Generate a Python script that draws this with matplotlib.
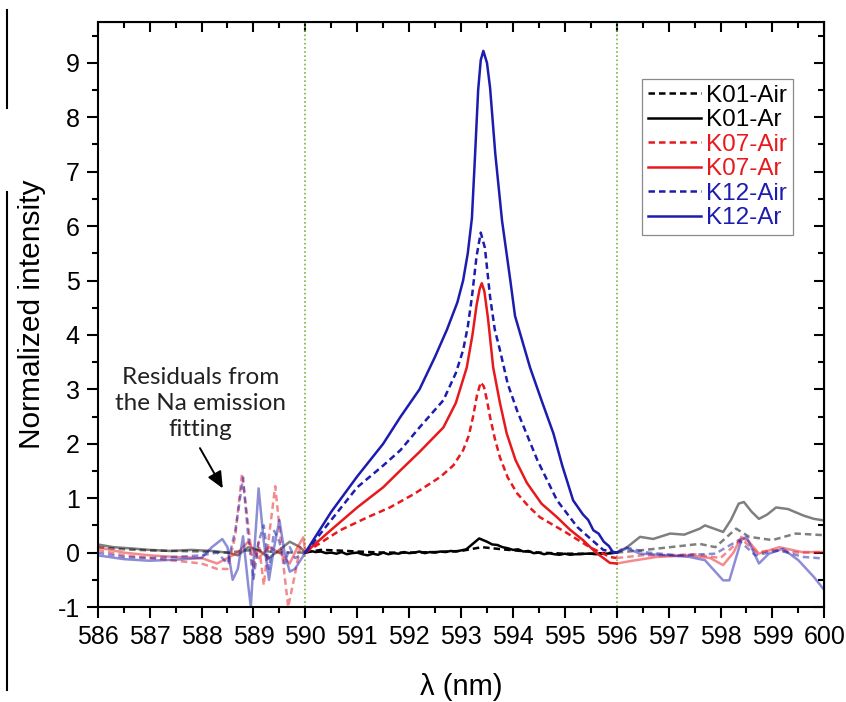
import numpy as np
import matplotlib
matplotlib.use('Agg')
import matplotlib.pyplot as plt
from matplotlib.lines import Line2D

plt.rcParams['font.family'] = ['Liberation Sans', 'DejaVu Sans']
plt.rcParams['axes.unicode_minus'] = False

# --- data (wavelength in nm, normalized intensity) ---
series_labels = ['K01-Air', 'K01-Ar', 'K07-Air', 'K07-Ar', 'K12-Air', 'K12-Ar']
series_colors = ['#000000', '#000000', '#e8191c', '#e8191c', '#1c1cae', '#1c1cae']
series_dashed = [True, False, True, False, True, False]

k01_air_x = [586, 586.5, 587, 587.5, 588, 588.5, 589, 589.5, 590,
             590.3, 590.6, 591, 591.5, 592, 592.5, 593, 593.4, 593.8, 594.5, 595, 595.5, 596,
             596.45, 597.03, 597.6, 597.9, 598.3, 598.55, 599.0, 599.45, 600]
k01_air_y = [0.1, 0.06, 0.04, 0.03, 0.02, 0.0, 0.05, 0.0, 0.0,
             0.05, 0.04, 0.02, 0.0, 0.0, 0.01, 0.03, 0.1, 0.06, 0.0, -0.02, -0.02, 0.0,
             0.04, 0.1, 0.16, 0.1, 0.44, 0.29, 0.23, 0.35, 0.32]

k01_ar_x = [586, 586.3, 586.6, 587, 587.4, 587.8, 588.2, 588.5, 588.7, 588.9, 589.1, 589.3, 589.5,
            589.7, 589.9,
            590.0, 590.1, 590.2, 590.3, 590.4, 590.5, 590.6, 590.7, 590.8, 590.9,
            591.0, 591.1, 591.2, 591.3, 591.4, 591.5, 591.6, 591.7, 591.8, 591.9,
            592.0, 592.1, 592.2, 592.3, 592.4, 592.5, 592.6, 592.7, 592.8, 592.9,
            593.0, 593.1, 593.2, 593.3, 593.35, 593.4, 593.5, 593.6, 593.7, 593.8, 593.9,
            594.0, 594.1, 594.2, 594.3, 594.4, 594.5, 594.6, 594.7, 594.8, 594.9,
            595.0, 595.1, 595.2, 595.3, 595.4, 595.5, 595.6, 595.7, 595.8, 595.9, 596.0,
            596.2, 596.45, 596.7, 597.03, 597.3, 597.6, 597.7, 598.05, 598.2, 598.35,
            598.45, 598.6, 598.74, 598.9, 599.07, 599.3, 599.6, 599.8, 600]
k01_ar_y = [0.15, 0.1, 0.08, 0.05, 0.03, 0.05, 0.03, 0.0, -0.05, 0.1, 0.05, -0.1, 0.05,
            0.2, 0.1,
            0.0, 0.03, 0.01, 0.02, -0.01, 0.0, -0.02, 0.01, -0.03, -0.01,
            0.0, -0.03, -0.05, -0.02, -0.04, 0.0, -0.03, -0.01, -0.02, 0.01,
            -0.01, 0.0, 0.02, -0.01, 0.01, 0.0, 0.02, 0.01, 0.03, 0.02,
            0.04, 0.06, 0.14, 0.22, 0.26, 0.24, 0.2, 0.15, 0.14, 0.1, 0.08,
            0.05, 0.06, 0.02, 0.03, -0.01, 0.0, -0.03, -0.01, -0.03, -0.04,
            -0.02, -0.04, -0.03, -0.03, -0.02, -0.02, -0.03, -0.02, -0.02, -0.01, 0.0,
            0.1, 0.29, 0.25, 0.35, 0.33, 0.44, 0.5, 0.38, 0.6, 0.9,
            0.93, 0.75, 0.62, 0.7, 0.83, 0.8, 0.68, 0.62, 0.59]

k07_air_x = [586, 586.5, 587, 587.5, 588, 588.3, 588.5, 588.65, 588.78, 588.9, 589.0, 589.1,
             589.2, 589.3, 589.42, 589.55, 589.67, 589.8, 589.9,
             590.0, 590.67, 591.2, 591.63, 592.1, 592.6, 592.85, 593.04, 593.15, 593.23,
             593.31, 593.38, 593.44, 593.5, 593.56, 593.65, 593.75, 593.9, 594.08, 594.3,
             594.52, 595.04, 595.48, 595.87, 596.0,
             596.5, 597, 597.5, 598, 598.4, 598.7, 599, 599.5, 600]
k07_air_y = [0.05, -0.05, -0.1, -0.15, -0.2, -0.3, -0.3, 0.3, 1.45, 0.5, -0.3, 0.2,
             -0.6, 0.3, 1.22, 0.0, -1.0, -0.4, 0.1,
             0.0, 0.41, 0.65, 0.83, 1.08, 1.39, 1.6, 1.88, 2.15, 2.49,
             2.9, 3.13, 3.05, 2.8, 2.49, 2.1, 1.75, 1.38, 1.09, 0.85,
             0.65, 0.36, 0.10, -0.08, -0.1,
             -0.05, -0.05, -0.03, -0.1, 0.25, 0.0, 0.05, 0.0, 0.0]

k07_ar_x = [586, 586.5, 587, 587.5, 588, 588.3, 588.5, 588.7, 588.9, 589.1, 589.3, 589.5,
            589.7, 589.85, 589.96,
            590.0, 590.5, 591.0, 591.5, 591.83, 592.2, 592.66, 592.9, 593.11, 593.22, 593.3,
            593.36, 593.4, 593.45, 593.52, 593.62, 593.75, 593.88, 594.05, 594.27, 594.55,
            594.85, 595.1, 595.35, 595.6, 595.87, 596.0,
            596.3, 596.77, 597.4, 597.8, 598.05, 598.25, 598.4, 598.55, 598.74, 599.13,
            599.57, 600]
k07_ar_y = [0.1, 0.0, -0.05, -0.08, -0.1, -0.2, -0.1, 0.0, 0.2, -0.1, 0.1, 0.0,
            -0.2, 0.1, 0.28,
            0.0, 0.42, 0.83, 1.2, 1.51, 1.85, 2.3, 2.75, 3.4, 4.0, 4.55,
            4.85, 4.95, 4.8, 4.3, 3.4, 2.75, 2.19, 1.7, 1.28, 0.9,
            0.65, 0.42, 0.23, 0.0, -0.19, -0.2,
            -0.15, -0.08, -0.05, -0.1, -0.23, 0.0, 0.29, 0.2, -0.02, 0.1,
            0.01, 0.01]

k12_air_x = [586, 586.5, 587, 587.5, 588, 588.3, 588.5, 588.65, 588.8, 588.9, 589.0, 589.1,
             589.2, 589.3, 589.4, 589.5, 589.6, 589.7, 589.8,
             590.0, 590.5, 591.0, 591.5, 591.83, 592.2, 592.66, 592.9, 593.04, 593.13,
             593.21, 593.3, 593.38, 593.46, 593.56, 593.65, 593.75, 593.9, 594.08, 594.47,
             594.85, 595.24, 595.5, 595.74, 596.0,
             596.15, 596.6, 597.2, 597.9, 598.35, 598.67, 599.13, 599.6, 600]
k12_air_y = [0.0, -0.08, -0.1, -0.08, -0.05, 0.0, -0.2, 0.4, 1.38, 0.3, -0.5, 0.2,
             0.5, -0.3, 0.4, 0.2, -0.2, 0.1, -0.1,
             0.0, 0.6, 1.2, 1.6, 1.88, 2.3, 2.8, 3.3, 3.72, 4.15,
             4.7, 5.45, 5.88, 5.6, 4.7, 4.1, 3.72, 3.1, 2.61, 1.7,
             0.96, 0.47, 0.25, 0.05, 0.0,
             0.1, 0.0, -0.05, -0.02, 0.23, -0.05, 0.04, -0.08, -0.11]

k12_ar_x = [586, 586.5, 587, 587.5, 588, 588.2, 588.4, 588.5, 588.6, 588.7, 588.8, 588.9,
            588.95, 589.0, 589.1, 589.2, 589.3, 589.4, 589.5, 589.6, 589.7, 589.8, 589.9,
            590.0, 590.5, 591.0, 591.5, 591.83, 592.2, 592.5, 592.73, 592.93, 593.04,
            593.13, 593.21, 593.27, 593.33, 593.38, 593.43, 593.5, 593.56, 593.66, 593.79,
            593.95, 594.04, 594.33, 594.55, 594.78, 594.95, 595.16, 595.35, 595.45, 595.55,
            595.65, 595.75, 595.85, 595.93, 596.0,
            596.2, 596.45, 597.0, 597.4, 597.7, 598.05, 598.17, 598.4, 598.5, 598.74,
            598.93, 599.2, 599.5, 599.8, 600]
k12_ar_y = [-0.05, -0.12, -0.15, -0.13, -0.1, 0.1, 0.25, 0.1, -0.5, -0.3, 0.3, -0.6,
            -1.0, -0.2, 1.18, 0.2, -0.5, 0.1, 0.6, 0.0, -0.35, -0.3, -0.15,
            0.0, 0.75, 1.4, 2.0, 2.49, 3.0, 3.6, 4.1, 4.6, 5.0,
            5.5, 6.15, 7.3, 8.5, 9.05, 9.22, 9.0, 8.54, 7.33, 6.1,
            5.0, 4.35, 3.4, 2.8, 2.19, 1.6, 0.96, 0.7, 0.6, 0.41,
            0.35, 0.2, 0.12, 0.0, 0.0,
            0.08, -0.02, -0.05, -0.08, -0.14, -0.51, -0.51, 0.23, 0.29, -0.2,
            -0.02, 0.07, -0.14, -0.45, -0.69]

series_x = [k01_air_x, k01_ar_x, k07_air_x, k07_ar_x, k12_air_x, k12_ar_x]
series_y = [k01_air_y, k01_ar_y, k07_air_y, k07_ar_y, k12_air_y, k12_ar_y]

fit_window = (590, 596)
x_ticks = np.arange(586, 601, 1)
y_ticks = np.arange(-1, 10, 1)

fig = plt.figure(figsize=(8.46, 7.02), dpi=100)
ax = fig.add_axes([0.1155, 0.1353, 0.8589, 0.8333])

lw = 1.8
handles = []
for xs, ys, c, dash, lab in zip(series_x, series_y, series_colors, series_dashed, series_labels):
    xs = np.array(xs, dtype=float)
    ys = np.array(ys, dtype=float)
    ls = (0, (2.6, 1.6)) if dash else '-'
    left = xs <= fit_window[0]
    right = xs >= fit_window[1]
    mid = (xs >= fit_window[0]) & (xs <= fit_window[1])
    ax.plot(xs[left], ys[left], color=c, alpha=0.5, lw=lw, ls=ls, zorder=2)
    ax.plot(xs[right], ys[right], color=c, alpha=0.5, lw=lw, ls=ls, zorder=2)
    h, = ax.plot(xs[mid], ys[mid], color=c, lw=lw, ls=ls, label=lab, zorder=3)
    handles.append(h)

for xv in fit_window:
    ax.axvline(xv, color='#7cb342', lw=1.2, ls=(0, (1, 1.5)), zorder=1)

ax.set_xlim(586, 600)
ax.set_ylim(-1, 9.75)
ax.set_xticks(x_ticks)
ax.set_yticks(y_ticks)
ax.set_xticks(np.arange(586.5, 600, 1), minor=True)
ax.set_yticks(np.arange(-0.5, 9.6, 1), minor=True)
ax.tick_params(which='both', direction='out', width=1.5, labelsize=18, pad=5)
ax.tick_params(which='major', length=8)
ax.tick_params(which='minor', length=4)
for s in ax.spines.values():
    s.set_linewidth(1.5)

# Origin-style inward ticks on the top and right
top = ax.secondary_xaxis('top')
top.set_xticks(x_ticks)
top.set_xticks(np.arange(586.5, 600, 1), minor=True)
top.tick_params(which='both', direction='in', width=1.5, labeltop=False)
top.tick_params(which='major', length=7)
top.tick_params(which='minor', length=4)
rgt = ax.secondary_yaxis('right')
rgt.set_yticks(y_ticks)
rgt.set_yticks(np.arange(-0.5, 9.6, 1), minor=True)
rgt.tick_params(which='both', direction='in', width=1.5, labelright=False)
rgt.tick_params(which='major', length=7)
rgt.tick_params(which='minor', length=4)

ax.set_xlabel('λ (nm)', fontsize=21, labelpad=17)
ax.set_ylabel('Normalized intensity', fontsize=21.5, labelpad=8)

leg = ax.legend(handles=handles, loc='upper right', bbox_to_anchor=(0.957, 0.903),
                fontsize=17.5, labelspacing=0.1, handlelength=2.2, handletextpad=0.2,
                borderpad=0.25, borderaxespad=0, fancybox=False, framealpha=1)
leg.get_frame().set_edgecolor('#8a8a8a')
leg.get_frame().set_linewidth(0.9)
for txt, c in zip(leg.get_texts(), series_colors):
    txt.set_color(c)

ax.text(587.98, 2.74, 'Residuals from\nthe Na emission\nfitting', ha='center', va='center',
        fontsize=17.5, family=['Lato', 'DejaVu Sans'], color='#222222', linespacing=1.3)
ax.annotate('', xy=(588.41, 1.18), xytext=(587.97, 1.92),
            arrowprops=dict(arrowstyle='-|>,head_length=1.0,head_width=0.45', color='black',
                            lw=1.4, shrinkA=0, shrinkB=0))

# thin black edge marks on the left border of the picture
fig.add_artist(Line2D([7 / 846, 7 / 846], [1 - 10 / 702, 1 - 108 / 702], color='black', lw=1.5))
fig.add_artist(Line2D([7 / 846, 7 / 846], [1 - 192 / 702, 1 - 690 / 702], color='black', lw=1.5))

fig.savefig('out.png', dpi=100)
